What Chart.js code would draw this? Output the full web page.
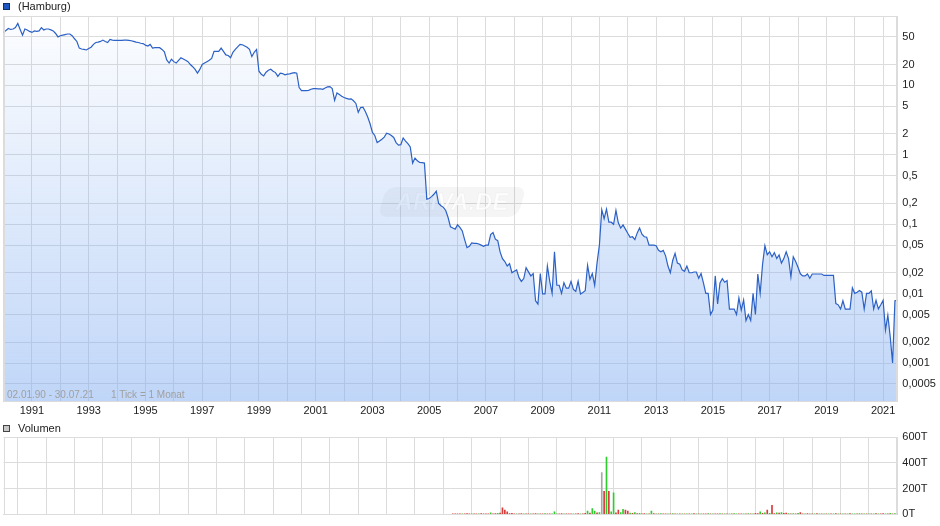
<!DOCTYPE html>
<html><head><meta charset="utf-8">
<script src="https://cdn.jsdelivr.net/npm/chart.js@4.4.1/dist/chart.umd.min.js"></script>
<style>
html,body{margin:0;padding:0;background:#fff;}
#wrap{position:relative;width:940px;height:526px;overflow:hidden;font-family:'Liberation Sans',Arial,sans-serif;color:#222;}
canvas{position:absolute;left:0;}
.leg{position:absolute;font-size:11px;line-height:13px;white-space:nowrap;color:#222;}
.sq{position:absolute;width:5px;height:5px;border:1px solid;}
.note{position:absolute;font-size:10px;line-height:12px;color:#a0a0a0;white-space:nowrap;}
</style></head>
<body><div id="wrap">
<canvas id="priceChart" width="940" height="420" style="top:0"></canvas>
<canvas id="volumeChart" width="940" height="106" style="top:420px"></canvas>
<div class="sq" style="left:3px;top:3px;background:#1d57c2;border-color:#0e2f6e"></div>
<div class="leg" style="top:0;left:18px">(Hamburg)</div>
<div class="note" style="left:7px;top:389px">02.01.90 - 30.07.21</div>
<div class="note" style="left:111px;top:389px">1 Tick = 1 Monat</div>
<div class="sq" style="left:3px;top:425px;background:#c8c8c8;border-color:#444"></div>
<div class="leg" style="top:422px;left:18px">Volumen</div>
</div>
<script>
// ---------- data ----------
const startYear = 1990;   // monthly values, Jan 1990 .. Jul 2021
const price1990s = [
 58,62,66,64,65,68,78,64,53,65,63,60,
 58,61,60,61,68,63,65,65,63,61,56,50,
 52,53,54,55,55,52,47,43,34.5,33.5,33,32.4,
 34,35.5,39,41.5,42,43,45,43,41.5,46,45,44.5,
 44.5,44.5,44.5,45,45,44.5,44,43,42,41.5,40.5,40,
 38,37,39,34.5,35,35,35,33,30.5,23.3,21,23.8,
 22,21,23,25,24,23,22,20,18.6,17,15,17,
 20,21,22,23,24.5,31,31,31,34.5,31,27.5,27,
 25,30,33,36,39,38.5,37,35.5,33,26,30,33,
 16,14.5,13.7,15.5,16.5,17.1,16,15.3,13.5,15,14.8,14.2
];
const price2000s = [
 14.5,14.7,15,15.3,15,9.3,8.4,8.4,8.4,8.5,8.8,9.0,
 9.0,8.9,8.9,8.8,9.2,9.5,9.6,9.0,6.1,7.8,7.4,7.0,
 6.7,6.5,6.35,6.4,6.0,5.5,4.1,4.8,4.85,4.2,3.5,2.8,
 2.1,1.9,1.5,1.58,1.68,1.8,2.05,2.0,1.9,1.78,1.5,1.38,
 1.4,1.75,1.58,1.45,1.3,0.76,0.9,0.82,0.775,0.77,0.76,0.23,
 0.235,0.25,0.27,0.30,0.2,0.185,0.175,0.158,0.125,0.092,0.088,0.085,
 0.098,0.09,0.08,0.06,0.046,0.048,0.054,0.053,0.053,0.052,0.05,0.048,
 0.05,0.05,0.071,0.076,0.061,0.058,0.04,0.032,0.029,0.025,0.027,0.02,
 0.021,0.022,0.017,0.015,0.0165,0.0237,0.0206,0.018,0.0195,0.0079,0.0071,0.0195,
 0.0099,0.0099,0.025,0.015,0.0101,0.040,0.0132,0.0132,0.0101,0.0144,0.012,0.012
];
const price2010s = [
 0.015,0.0115,0.0108,0.0151,0.0099,0.0104,0.011,0.0256,0.0161,0.0195,0.0132,0.0275,
 0.05,0.162,0.12,0.165,0.107,0.107,0.1,0.158,0.105,0.088,0.098,0.085,
 0.074,0.065,0.066,0.06,0.075,0.088,0.072,0.066,0.065,0.05,0.05,0.05,
 0.049,0.042,0.040,0.042,0.035,0.025,0.02,0.03,0.038,0.0275,0.0265,0.022,
 0.021,0.025,0.02,0.02,0.0205,0.0205,0.0167,0.0195,0.0143,0.0101,0.0101,0.005,
 0.0058,0.018,0.0071,0.0143,0.0164,0.0146,0.0154,0.006,0.006,0.006,0.005,0.0087,
 0.0058,0.0081,0.0041,0.005,0.0041,0.0101,0.005,0.0192,0.0101,0.0262,0.049,0.0364,
 0.040,0.034,0.039,0.032,0.036,0.0275,0.032,0.040,0.032,0.0174,0.034,0.029,
 0.024,0.0193,0.018,0.018,0.0192,0.0167,0.0192,0.0192,0.0192,0.0192,0.0192,0.0183,
 0.0183,0.0183,0.0183,0.0183,0.0072,0.0069,0.006,0.0079,0.006,0.006,0.006,0.0121
];
const price2020s = [
 0.0101,0.0105,0.0111,0.0105,0.006,0.0101,0.0101,0.011,0.006,0.008,0.006,0.0069,
 0.008,0.003,0.0049,0.0024,0.001,0.0079,0.008
];
const priceTicks = [0.0005,0.001,0.002,0.005,0.01,0.02,0.05,0.1,0.2,0.5,1,2,5,10,20,50];

// volume in thousands (T), monthly from Nov 2005
const volumeStartYear = 2005, volumeStartMonth = 11;
const volumeK = [
 4,3,5,4,3,4,6,5,4,3,5,4,6,5,
 5,4,13,5,6,8,10,50,33,20,6,8,
 5,4,3,6,4,5,3,4,5,6,4,5,
 4,6,5,4,3,20,5,4,6,3,4,5,
 5,4,3,6,5,4,8,25,10,45,25,12,
 15,325,178,445,178,20,168,12,33,15,40,33,
 25,10,8,15,6,8,5,6,4,5,25,6,
 5,4,6,3,5,4,3,6,4,5,3,4,
 4,3,5,4,6,3,4,5,3,4,6,5,
 5,4,3,6,5,4,3,5,4,6,5,4,
 4,5,3,6,4,5,8,6,20,8,12,33,
 8,71,6,13,10,15,8,10,6,5,6,4,
 8,15,5,4,6,3,5,4,6,5,4,3,
 4,5,3,4,6,5,3,4,5,4,6,3,
 5,4,6,3,5,4,4,5,3,6,4,5,
 6,5,4,8,5,6,4
];
// g = up, r = down, n = unchanged
const volumeTrend =
 "rrrrgrrrgrrgrr" +
 "rrgrrgrrrrrr" + "rgrrgrrgrrgr" + "rgrrgggrrgrr" + "rgrrgrrgrggr" +
 "gnrgrggrrggr" + "rgrgrgrrgrgr" + "grgrrgrgrgrg" + "rgrgrgrgrrgr" +
 "grrgrgrgrggr" + "rgrgrgrrgrgr" + "grrgrgrrgrgr" + "grrgrgrgrgrg" +
 "rgrgrgrgrgrg" + "grgrgrgrgrgr" + "rgrgrgr";
const volumeTicks = [0,200,400,600];

// ---------- build ----------
const prices = [...price1990s, ...price2000s, ...price2010s, ...price2020s];
const lastMonth = prices.length - 1;
const yearStarts = [];
for (let y = startYear; y <= startYear + Math.floor(lastMonth / 12); y++) yearStarts.push((y - startYear) * 12);
const volumeOffset = (volumeStartYear - startYear) * 12 + (volumeStartMonth - 1);

const GRID = '#dcdcdc';
const LEFT = 3.6, RIGHT_W = 42.7;
Chart.defaults.font.family = "'Liberation Sans', Arial, sans-serif";
Chart.defaults.font.size = 11;
Chart.defaults.color = '#222';

const frame = {
  id: 'frame',
  afterDatasetsDraw(chart) {
    const {ctx, chartArea: a} = chart;
    ctx.save();
    ctx.strokeStyle = GRID; ctx.lineWidth = 1;
    ctx.strokeRect(Math.round(a.left) + 0.5, Math.round(a.top) + 0.5,
      Math.round(a.right) - Math.round(a.left) - 1, Math.round(a.bottom) - Math.round(a.top));
    ctx.restore();
  }
};

const watermark = {
  id: 'watermark',
  beforeDatasetsDraw(chart) {
    const c = chart.ctx;
    const cx = 452, cy = 202;
    c.save();
    c.translate(cx, cy);
    c.transform(1, 0, -0.3, 1, 0, 0);
    c.beginPath();
    if (c.roundRect) c.roundRect(-70, -15, 140, 30, 9); else c.rect(-70, -15, 140, 30);
    c.fillStyle = 'rgba(0,0,0,0.04)';
    c.fill();
    c.restore();
    c.save();
    c.font = "italic bold 24px 'Liberation Sans', Arial, sans-serif";
    c.textAlign = 'center'; c.textBaseline = 'middle';
    c.fillStyle = 'rgba(255,255,255,0.75)';
    c.fillText('ARIVA.DE', cx, cy + 1);
    c.strokeStyle = 'rgba(0,0,0,0.035)'; c.lineWidth = 1;
    c.strokeText('ARIVA.DE', cx, cy + 1);
    c.restore();
  }
};

new Chart(document.getElementById('priceChart'), {
  type: 'line',
  data: { datasets: [{
    data: prices.map((v, i) => ({x: i, y: v})),
    borderColor: '#2c61c6', borderWidth: 1.2, pointRadius: 0, tension: 0,
    fill: 'start',
    backgroundColor: (ctx) => {
      const a = ctx.chart.chartArea;
      if (!a) return 'rgba(129,173,241,0.25)';
      const g = ctx.chart.ctx.createLinearGradient(0, a.top, 0, a.bottom);
      g.addColorStop(0, 'rgba(129,173,241,0.02)');
      g.addColorStop(1, 'rgba(129,173,241,0.5)');
      return g;
    }
  }]},
  options: {
    responsive: false, animation: false, devicePixelRatio: 1,
    layout: { padding: { left: LEFT, top: 16, right: 0, bottom: 0 } },
    plugins: { legend: { display: false }, tooltip: { enabled: false } },
    scales: {
      x: {
        type: 'linear', min: 0, max: lastMonth, offset: false,
        grid: { color: GRID, drawTicks: false }, border: { color: GRID },
        ticks: { padding: 3, autoSkip: false, maxRotation: 0, color: '#222',
          callback: (v) => { const y = startYear + v / 12; return (y % 2 === 1) ? String(y) : ''; } },
        afterBuildTicks: (s) => { s.ticks = yearStarts.map(v => ({value: v})); },
        afterFit: (s) => { s.height = 19; }
      },
      y: {
        type: 'logarithmic', position: 'right', min: 0.000284, max: 100,
        grid: { color: GRID, drawTicks: false }, border: { color: GRID },
        ticks: { padding: 5, color: '#222', callback: (v) => String(v).replace('.', ',') },
        afterBuildTicks: (s) => { s.ticks = priceTicks.map(v => ({value: v})); },
        afterFit: (s) => { s.width = RIGHT_W; }
      }
    }
  },
  plugins: [watermark, frame]
});

new Chart(document.getElementById('volumeChart'), {
  type: 'bar',
  data: { datasets: [{
    data: volumeK.map((v, i) => ({x: volumeOffset + i, y: v})),
    backgroundColor: volumeTrend.split('').map(t => t === 'g' ? '#2fcc2f' : t === 'r' ? '#d93a3a' : '#a8a8a8'),
    barThickness: 1, borderWidth: 0
  }]},
  options: {
    responsive: false, animation: false, devicePixelRatio: 1,
    layout: { padding: { left: LEFT, top: 17, right: 0, bottom: 10 } },
    plugins: { legend: { display: false }, tooltip: { enabled: false } },
    scales: {
      x: {
        type: 'linear', min: 0, max: lastMonth, offset: false,
        grid: { color: GRID, drawTicks: false }, border: { color: GRID },
        ticks: { display: false },
        afterBuildTicks: (s) => { s.ticks = yearStarts.map(v => ({value: v})); },
        afterFit: (s) => { s.height = 0; }
      },
      y: {
        position: 'right', min: 0, max: 600,
        grid: { color: GRID, drawTicks: false }, border: { color: GRID },
        ticks: { padding: 5, color: '#222', callback: (v) => v + 'T' },
        afterBuildTicks: (s) => { s.ticks = volumeTicks.map(v => ({value: v})); },
        afterFit: (s) => { s.width = RIGHT_W; }
      }
    }
  },
  plugins: [frame]
});
</script>
</body></html>
